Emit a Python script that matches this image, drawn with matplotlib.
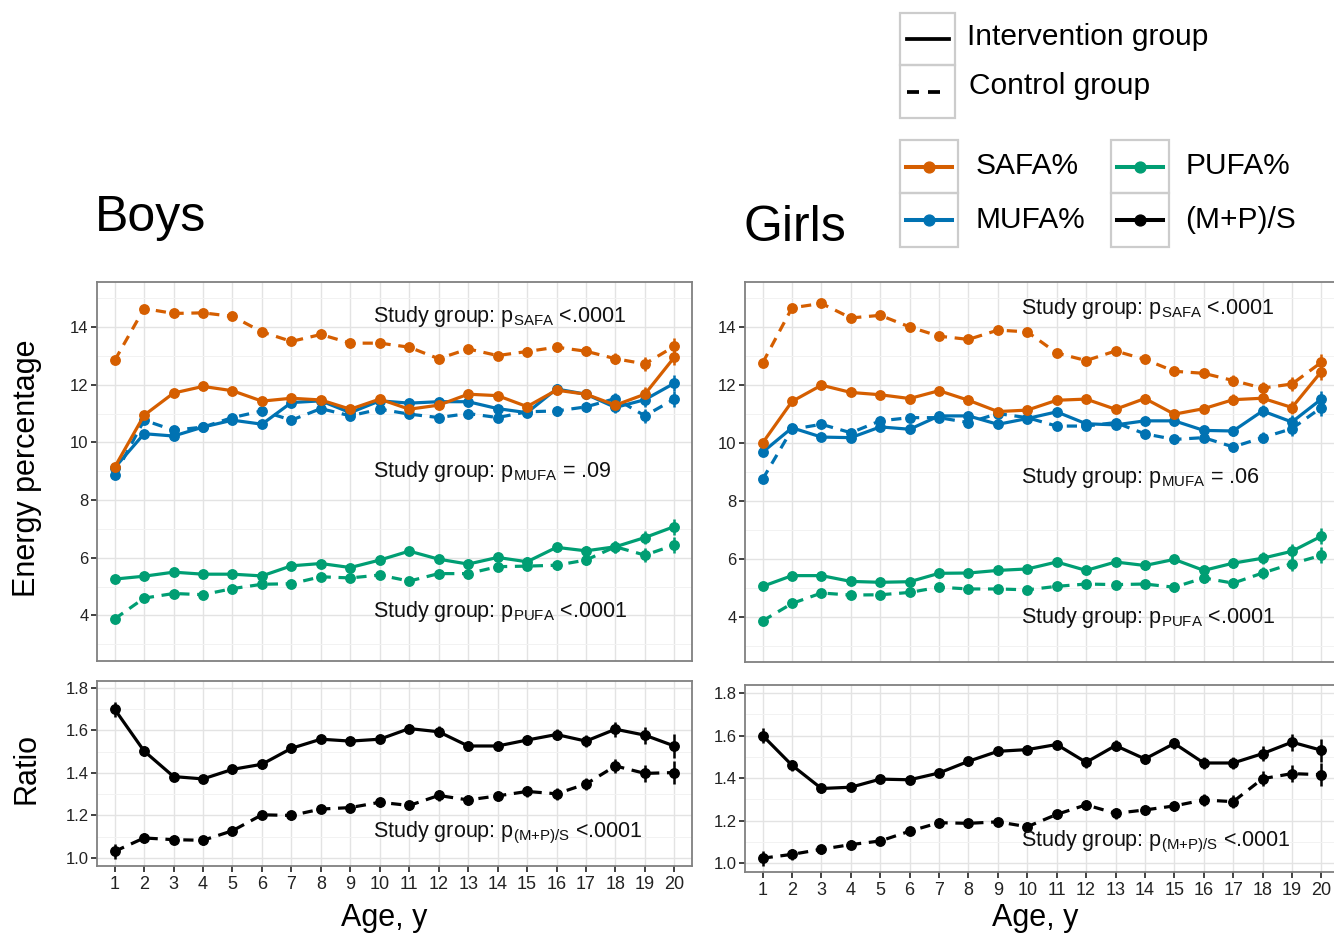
import matplotlib
matplotlib.use("Agg")
import matplotlib.pyplot as plt
from matplotlib.patches import Rectangle
from matplotlib.lines import Line2D
from matplotlib.ticker import MultipleLocator, FormatStrFormatter
from matplotlib import font_manager

plt.rcParams['font.family'] = ['Liberation Sans', 'DejaVu Sans']

_names = {f.name for f in font_manager.fontManager.ttflist}
NARROW = 'Liberation Sans Narrow' if 'Liberation Sans Narrow' in _names else 'Liberation Sans'
plt.rcParams['mathtext.fontset'] = 'custom'
plt.rcParams['mathtext.rm'] = NARROW
plt.rcParams['mathtext.it'] = NARROW
plt.rcParams['mathtext.bf'] = NARROW

# ---------------- data ----------------
ages = list(range(1, 21))

boys_safa_int = [9.14, 10.94, 11.71, 11.94, 11.79, 11.43, 11.53, 11.47, 11.15, 11.50,
                 11.15, 11.29, 11.67, 11.62, 11.24, 11.81, 11.67, 11.29, 11.67, 12.95]
boys_safa_ctl = [12.84, 14.64, 14.47, 14.49, 14.37, 13.83, 13.50, 13.74, 13.44, 13.44,
                 13.30, 12.90, 13.24, 13.01, 13.15, 13.30, 13.16, 12.90, 12.72, 13.33]
boys_mufa_int = [9.12, 10.30, 10.22, 10.53, 10.77, 10.63, 11.38, 11.44, 11.03, 11.44,
                 11.36, 11.41, 11.41, 11.17, 11.03, 11.85, 11.67, 11.21, 11.48, 12.05]
boys_mufa_ctl = [8.86, 10.77, 10.42, 10.53, 10.86, 11.09, 10.77, 11.17, 10.92, 11.15,
                 10.98, 10.86, 11.00, 10.86, 11.06, 11.09, 11.23, 11.52, 10.92, 11.50]
boys_pufa_int = [5.26, 5.36, 5.50, 5.43, 5.43, 5.37, 5.72, 5.80, 5.66, 5.92,
                 6.23, 5.95, 5.78, 6.01, 5.86, 6.36, 6.24, 6.38, 6.70, 7.08]
boys_pufa_ctl = [3.88, 4.60, 4.76, 4.72, 4.93, 5.08, 5.10, 5.34, 5.30, 5.40,
                 5.19, 5.45, 5.45, 5.69, 5.71, 5.74, 5.92, 6.38, 6.09, 6.44]
boys_ratio_int = [1.700, 1.503, 1.383, 1.372, 1.417, 1.441, 1.516, 1.559, 1.550, 1.559,
                  1.609, 1.594, 1.527, 1.527, 1.555, 1.581, 1.550, 1.606, 1.578, 1.527]
boys_ratio_ctl = [1.031, 1.094, 1.086, 1.083, 1.128, 1.203, 1.200, 1.230, 1.237, 1.262,
                  1.247, 1.294, 1.273, 1.292, 1.313, 1.302, 1.348, 1.433, 1.398, 1.402]

girls_safa_int = [10.01, 11.44, 12.00, 11.75, 11.67, 11.54, 11.81, 11.48, 11.09, 11.14,
                  11.48, 11.52, 11.17, 11.54, 11.00, 11.19, 11.50, 11.55, 11.23, 12.47]
girls_safa_ctl = [12.77, 14.67, 14.82, 14.32, 14.41, 14.01, 13.69, 13.58, 13.90, 13.84,
                  13.11, 12.85, 13.18, 12.89, 12.48, 12.41, 12.16, 11.90, 12.04, 12.79]
girls_mufa_int = [9.69, 10.53, 10.21, 10.19, 10.56, 10.48, 10.94, 10.94, 10.65, 10.85,
                  11.08, 10.67, 10.63, 10.77, 10.77, 10.44, 10.42, 11.11, 10.73, 11.52]
girls_mufa_ctl = [8.76, 10.48, 10.65, 10.36, 10.77, 10.88, 10.88, 10.71, 11.02, 10.88,
                  10.59, 10.59, 10.71, 10.32, 10.13, 10.19, 9.87, 10.19, 10.50, 11.23]
girls_pufa_int = [5.06, 5.43, 5.43, 5.23, 5.20, 5.22, 5.51, 5.52, 5.61, 5.66,
                  5.90, 5.61, 5.90, 5.78, 5.99, 5.61, 5.86, 6.03, 6.27, 6.79]
girls_pufa_ctl = [3.87, 4.47, 4.83, 4.76, 4.77, 4.85, 5.03, 4.97, 4.97, 4.94,
                  5.06, 5.14, 5.12, 5.14, 5.03, 5.35, 5.17, 5.52, 5.84, 6.13]
girls_ratio_int = [1.600, 1.460, 1.351, 1.357, 1.395, 1.392, 1.424, 1.479, 1.526, 1.534,
                   1.558, 1.474, 1.553, 1.490, 1.563, 1.471, 1.471, 1.515, 1.569, 1.531]
girls_ratio_ctl = [1.023, 1.041, 1.065, 1.087, 1.104, 1.150, 1.190, 1.187, 1.194, 1.171,
                   1.229, 1.274, 1.234, 1.250, 1.269, 1.297, 1.289, 1.397, 1.421, 1.416]

# approximate half-widths of the error bars
err_top = [0.10, 0.10, 0.10, 0.10, 0.10, 0.10, 0.10, 0.11, 0.12, 0.12,
           0.13, 0.13, 0.14, 0.14, 0.15, 0.16, 0.18, 0.20, 0.24, 0.28]
err_ratio = [0.035, 0.025, 0.02, 0.02, 0.02, 0.02, 0.02, 0.02, 0.02, 0.02,
             0.022, 0.025, 0.025, 0.025, 0.025, 0.028, 0.03, 0.035, 0.04, 0.055]

fat_labels = ['SAFA%', 'MUFA%', 'PUFA%', '(M+P)/S']
group_labels = ['Intervention group', 'Control group']

# ---------------- style ----------------
C_SAFA = '#D55E00'
C_MUFA = '#0072B2'
C_PUFA = '#009E73'
C_RAT = '#000000'
LW = 2.3
MS = 6.8
DASH = (3.2, 2.4)
ANNOT_FONT = [NARROW, 'DejaVu Sans']
ANNOT_SIZE = 17 if NARROW != 'Liberation Sans' else 15.5

W, H = 1334, 933
fig = plt.figure(figsize=(W / 100, H / 100), dpi=100)
fig.patch.set_facecolor('white')


def px_axes(l, t, r, b):
    return fig.add_axes([l / W, 1 - b / H, (r - l) / W, (b - t) / H])


def style_axes(ax, show_x):
    ax.set_facecolor('white')
    ax.set_xlim(0.4, 20.6)
    ax.set_xticks(ages)
    ax.grid(True, which='major', color='#E3E3E3', lw=1.0)
    ax.grid(True, which='minor', axis='y', color='#F2F2F2', lw=0.7)
    ax.set_axisbelow(True)
    for s in ax.spines.values():
        s.set_color('#808080')
        s.set_linewidth(1.3)
    ax.tick_params(axis='y', which='major', direction='out', length=4, width=1.3,
                   color='#333333', labelsize=12, labelcolor='#222222', pad=2)
    ax.tick_params(axis='y', which='minor', length=0)
    if show_x:
        ax.set_xticklabels([str(a) for a in ages])
        ax.tick_params(axis='x', direction='out', length=4, width=1.3,
                       color='#333333', labelsize=13, labelcolor='#222222', pad=3)
    else:
        ax.tick_params(axis='x', length=0, labelbottom=False)


def series(ax, y, err, color, dashed):
    ls = (0, DASH) if dashed else '-'
    ax.errorbar(ages, y, yerr=err, color=color, lw=LW, ls=ls, marker='o', ms=MS,
                elinewidth=1.8, capsize=0, zorder=3)


def annot(ax, y, sub, rest):
    ax.text(9.78, y, r'Study group: p$_{\mathrm{' + sub + r'}}$ ' + rest,
            fontsize=ANNOT_SIZE, family=ANNOT_FONT, va='center', ha='left',
            color='#111111', zorder=5)


panels = [
    dict(top=(97, 282, 692, 661), bot=(97, 681, 692, 866),
         top_ylim=(2.42, 15.56), bot_ylim=(0.962, 1.833),
         safa=(boys_safa_int, boys_safa_ctl), mufa=(boys_mufa_int, boys_mufa_ctl),
         pufa=(boys_pufa_int, boys_pufa_ctl), ratio=(boys_ratio_int, boys_ratio_ctl),
         ann=(14.38, 9.0, 4.12, 1.118), mufa_p='= .09'),
    dict(top=(745, 282, 1339, 662), bot=(745, 685, 1339, 872),
         top_ylim=(2.45, 15.56), bot_ylim=(0.958, 1.838),
         safa=(girls_safa_int, girls_safa_ctl), mufa=(girls_mufa_int, girls_mufa_ctl),
         pufa=(girls_pufa_int, girls_pufa_ctl), ratio=(girls_ratio_int, girls_ratio_ctl),
         ann=(14.66, 8.8, 4.0, 1.10), mufa_p='= .06'),
]

for p in panels:
    ax = px_axes(*p['top'])
    style_axes(ax, False)
    ax.set_ylim(*p['top_ylim'])
    ax.yaxis.set_major_locator(MultipleLocator(2))
    ax.yaxis.set_minor_locator(MultipleLocator(1))
    for (yi, yc), col in ((p['pufa'], C_PUFA), (p['mufa'], C_MUFA), (p['safa'], C_SAFA)):
        series(ax, yc, err_top, col, True)
        series(ax, yi, err_top, col, False)
    annot(ax, p['ann'][0], 'SAFA', '<.0001')
    annot(ax, p['ann'][1], 'MUFA', p['mufa_p'])
    annot(ax, p['ann'][2], 'PUFA', '<.0001')

    axb = px_axes(*p['bot'])
    style_axes(axb, True)
    axb.set_ylim(*p['bot_ylim'])
    axb.yaxis.set_major_locator(MultipleLocator(0.2))
    axb.yaxis.set_minor_locator(MultipleLocator(0.1))
    axb.yaxis.set_major_formatter(FormatStrFormatter('%.1f'))
    series(axb, p['ratio'][1], err_ratio, C_RAT, True)
    series(axb, p['ratio'][0], err_ratio, C_RAT, False)
    annot(axb, p['ann'][3], '(M{+}P)/S', '<.0001')

# titles and axis labels
fig.text(95 / W, 1 - 231 / H, 'Boys', fontsize=36, ha='left', va='baseline')
fig.text(744 / W, 1 - 241 / H, 'Girls', fontsize=36, ha='left', va='baseline')
fig.text(27 / W, 1 - 468 / H, 'Energy percentage', fontsize=22, rotation=90,
         ha='center', va='center')
fig.text(27 / W, 1 - 768 / H, 'Ratio', fontsize=22, rotation=90,
         ha='center', va='center')
fig.text(384 / W, 1 - 926 / H, 'Age, y', fontsize=22, ha='center', va='baseline')
fig.text(1035 / W, 1 - 926 / H, 'Age, y', fontsize=22, ha='center', va='baseline')

# legends drawn in pixel coordinates
lg = fig.add_axes([0, 0, 1, 1], zorder=10)
lg.set_xlim(0, W)
lg.set_ylim(H, 0)
lg.axis('off')
lg.patch.set_alpha(0)


def key_box(x0, y0, x1, y1):
    lg.add_patch(Rectangle((x0, y0), x1 - x0, y1 - y0, fill=False,
                           ec='#CCCCCC', lw=1.6))


key_box(900, 13, 955, 65)
key_box(900, 65, 955, 118)
lg.add_line(Line2D([907, 949], [39, 39], color='black', lw=LW + 0.4))
lg.add_line(Line2D([907, 949], [92, 92], color='black', lw=LW + 0.4, ls=(0, DASH)))
fig.text(967 / W, 1 - 37 / H, group_labels[0], fontsize=21.5, va='center', ha='left')
fig.text(969 / W, 1 - 86 / H, group_labels[1], fontsize=21.5, va='center', ha='left')

keys = [(900, 140, 958, 193, C_SAFA, fat_labels[0], 976),
        (900, 193, 958, 247, C_MUFA, fat_labels[1], 976),
        (1111, 140, 1169, 193, C_PUFA, fat_labels[2], 1185),
        (1111, 193, 1169, 247, C_RAT, fat_labels[3], 1185)]
for x0, y0, x1, y1, col, lab, tx in keys:
    key_box(x0, y0, x1, y1)
    yc = (y0 + y1) / 2
    lg.add_line(Line2D([x0 + 6, x1 - 6], [yc, yc], color=col, lw=LW + 0.6))
    lg.add_line(Line2D([(x0 + x1) / 2], [yc], color=col, marker='o', ms=MS + 1))
    fig.text(tx / W, 1 - yc / H, lab, fontsize=21.5, va='center', ha='left')

fig.savefig('out.png', dpi=100)
